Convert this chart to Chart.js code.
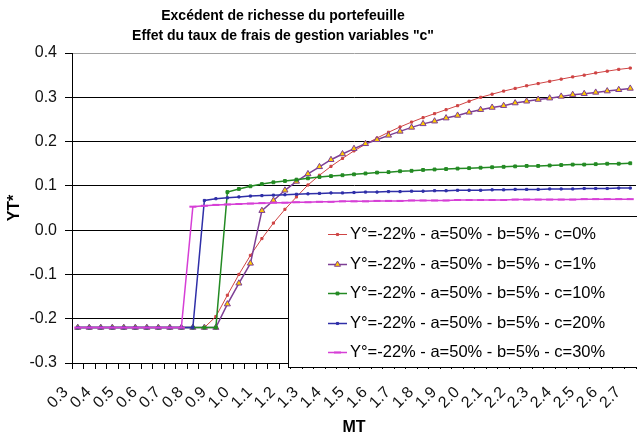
<!DOCTYPE html>
<html>
<head>
<meta charset="utf-8">
<script src="https://cdn.jsdelivr.net/npm/chart.js@4.4.1/dist/chart.umd.min.js"></script>
<style>
  html, body { margin: 0; padding: 0; background: #fff; overflow: hidden; }
  #wrap { position: relative; width: 642px; height: 440px; }
</style>
</head>
<body>
<div id="wrap"><canvas id="chart"></canvas></div>
<script>
// MT categories (x axis)
const mt = [
  0.30, 0.35, 0.40, 0.45, 0.50, 0.55, 0.60, 0.65, 0.70, 0.75,
  0.80, 0.85, 0.90, 0.95, 1.00, 1.05, 1.10, 1.15, 1.20, 1.25,
  1.30, 1.35, 1.40, 1.45, 1.50, 1.55, 1.60, 1.65, 1.70, 1.75,
  1.80, 1.85, 1.90, 1.95, 2.00, 2.05, 2.10, 2.15, 2.20, 2.25,
  2.30, 2.35, 2.40, 2.45, 2.50, 2.55, 2.60, 2.65, 2.70
];

// YT* for each value of c
const c0 = [
  -0.22, -0.22, -0.22, -0.22, -0.22, -0.22, -0.22, -0.22, -0.22, -0.22,
  -0.22, -0.22, -0.195, -0.147, -0.100, -0.057, -0.019, 0.016, 0.047, 0.075,
  0.102, 0.124, 0.144, 0.162, 0.179, 0.194, 0.208, 0.221, 0.233, 0.244,
  0.254, 0.263, 0.272, 0.281, 0.291, 0.300, 0.307, 0.314, 0.320, 0.326,
  0.331, 0.336, 0.341, 0.346, 0.350, 0.355, 0.359, 0.363, 0.366
];
const c1 = [
  -0.22, -0.22, -0.22, -0.22, -0.22, -0.22, -0.22, -0.22, -0.22, -0.22,
  -0.22, -0.22, -0.22, -0.167, -0.120, -0.075, 0.044, 0.067, 0.090, 0.110,
  0.127, 0.143, 0.159, 0.172, 0.184, 0.195, 0.204, 0.214, 0.223, 0.232,
  0.240, 0.246, 0.253, 0.259, 0.266, 0.272, 0.277, 0.281, 0.287, 0.291,
  0.295, 0.298, 0.302, 0.306, 0.308, 0.311, 0.314, 0.317, 0.320
];
const c10 = [
  -0.22, -0.22, -0.22, -0.22, -0.22, -0.22, -0.22, -0.22, -0.22, -0.22,
  -0.22, -0.22, -0.22, 0.086, 0.093, 0.099, 0.104, 0.108, 0.111, 0.114,
  0.117, 0.120, 0.122, 0.124, 0.126, 0.128, 0.130, 0.131, 0.133, 0.134,
  0.136, 0.137, 0.138, 0.139, 0.140, 0.141, 0.142, 0.143, 0.144, 0.145,
  0.145, 0.146, 0.147, 0.148, 0.148, 0.149, 0.150, 0.150, 0.151
];
const c20 = [
  -0.22, -0.22, -0.22, -0.22, -0.22, -0.22, -0.22, -0.22, -0.22, -0.22,
  -0.22, 0.067, 0.071, 0.073, 0.075, 0.077, 0.078, 0.079, 0.080, 0.081,
  0.082, 0.083, 0.084, 0.084, 0.085, 0.086, 0.086, 0.087, 0.087, 0.088,
  0.088, 0.089, 0.089, 0.090, 0.090, 0.090, 0.091, 0.091, 0.092, 0.092,
  0.092, 0.093, 0.093, 0.093, 0.094, 0.094, 0.094, 0.095, 0.095
];
const c30 = [
  -0.22, -0.22, -0.22, -0.22, -0.22, -0.22, -0.22, -0.22, -0.22, -0.22,
  0.053, 0.055, 0.057, 0.058, 0.059, 0.060, 0.061, 0.062, 0.062, 0.063,
  0.063, 0.064, 0.064, 0.065, 0.065, 0.065, 0.066, 0.066, 0.066, 0.067,
  0.067, 0.067, 0.067, 0.068, 0.068, 0.068, 0.068, 0.068, 0.069, 0.069,
  0.069, 0.069, 0.069, 0.069, 0.070, 0.070, 0.070, 0.070, 0.070
];

const seriesLabels = [
  "Y°=-22% - a=50% - b=5% - c=0%",
  "Y°=-22% - a=50% - b=5% - c=1%",
  "Y°=-22% - a=50% - b=5% - c=10%",
  "Y°=-22% - a=50% - b=5% - c=20%",
  "Y°=-22% - a=50% - b=5% - c=30%"
];
const titleLines = [
  "Excédent de richesse du portefeuille",
  "Effet du taux de frais de gestion variables \"c\""
];
const yMin = -0.3, yMax = 0.4, yStep = 0.1;

const FONT = "'Liberation Sans', Arial, sans-serif";
Chart.defaults.font.family = FONT;
Chart.defaults.color = "#111";

// title + legend box drawn over the plot, like the Excel original
const overlay = {
    id: "overlay",
    afterDraw(chart) {
        const ctx = chart.ctx;
        ctx.save();
        ctx.fillStyle = "#000";
        ctx.font = "bold 14px " + FONT;
        ctx.textAlign = "center";
        ctx.textBaseline = "middle";
        titleLines.forEach((t, i) => ctx.fillText(t, 283, 16 + i * 20));

        ctx.fillStyle = "#fff";
        ctx.fillRect(288, 216, 370, 151);
        ctx.strokeStyle = "#000";
        ctx.lineWidth = 1;
        ctx.strokeRect(288.5, 216.5, 370, 151);

        chart.data.datasets.forEach((ds, i) => {
            const y = Math.round(234 + i * 29.6) + 0.5;
            ctx.strokeStyle = ds.borderColor;
            ctx.lineWidth = ds.borderWidth;
            ctx.beginPath();
            ctx.moveTo(328, y);
            ctx.lineTo(347, y);
            ctx.stroke();
            ctx.fillStyle = ds.pointBackgroundColor;
            ctx.strokeStyle = ds.pointBorderColor;
            ctx.lineWidth = ds.pointBorderWidth;
            Chart.helpers.drawPoint(ctx, {
                pointStyle: ds.pointStyle, radius: ds.pointRadius,
                rotation: 0, borderWidth: ds.pointBorderWidth
            }, 337.5, y);
            ctx.fillStyle = "#000";
            ctx.font = "16.5px " + FONT;
            ctx.textAlign = "left";
            ctx.fillText(ds.label, 350, y);
        });
        ctx.restore();
    }
};

const colors = ["#cf4444", "#7d3f95", "#238a23", "#2f2fa8", "#d63fd6"];

new Chart(document.getElementById("chart"), {
    type: "line",
    data: {
        labels: mt,
        datasets: [
            {
                label: seriesLabels[0], data: c0, order: 5,
                borderColor: colors[0], borderWidth: 1,
                pointStyle: "rect", pointRadius: 1.5,
                pointBackgroundColor: colors[0], pointBorderColor: colors[0], pointBorderWidth: 1,
            },
            {
                label: seriesLabels[1], data: c1, order: 4,
                borderColor: colors[1], borderWidth: 1.5,
                pointStyle: "triangle", pointRadius: 3.5,
                pointBackgroundColor: "#ffcc00", pointBorderColor: colors[1], pointBorderWidth: 1,
            },
            {
                label: seriesLabels[2], data: c10, order: 3,
                borderColor: colors[2], borderWidth: 1.5,
                pointStyle: "rect", pointRadius: 2,
                pointBackgroundColor: colors[2], pointBorderColor: colors[2], pointBorderWidth: 1,
            },
            {
                label: seriesLabels[3], data: c20, order: 2,
                borderColor: colors[3], borderWidth: 1.5,
                pointStyle: "rect", pointRadius: 1.5,
                pointBackgroundColor: colors[3], pointBorderColor: colors[3], pointBorderWidth: 1,
            },
            {
                label: seriesLabels[4], data: c30, order: 1,
                borderColor: colors[4], borderWidth: 1.5,
                pointStyle: "line", pointRadius: 3.5,
                pointBackgroundColor: colors[4], pointBorderColor: colors[4], pointBorderWidth: 2,
            },
        ],
    },
    options: {
        responsive: true,
        maintainAspectRatio: false,
        animation: false,
        layout: { padding: { top: 53, left: 0, right: 0, bottom: 0 } },
        plugins: {
            legend: { display: false },
            tooltip: { enabled: false },
        },
        scales: {
            x: {
                offset: true,
                grid: { offset: true, drawOnChartArea: false, tickLength: 6, tickColor: "#000" },
                border: { color: "#000" },
                ticks: {
                    autoSkip: false, maxRotation: 45, minRotation: 45,
                    font: { size: 16 }, padding: 14, labelOffset: -12,
                    callback: (v, i) => (i % 2 === 0 ? mt[i].toFixed(1) : ""),
                },
                title: { display: true, text: "MT", font: { size: 16, weight: "bold" }, color: "#000", padding: { top: 4, bottom: 3 } },
                afterFit: (s) => { s.height = 77; s.paddingRight = 0; },
            },
            y: {
                min: yMin, max: yMax,
                grid: {
                    color: (c) => (Math.abs(c.tick.value - yMax) < 1e-6 ? "#a0a0a0" : "#000"),
                    tickLength: 7, tickColor: "#000",
                },
                border: { color: "#000" },
                ticks: {
                    stepSize: yStep, padding: 8, font: { size: 16 },
                    callback: (v) => v.toFixed(1),
                },
                title: { display: true, text: "YT*", font: { size: 16, weight: "bold" }, color: "#000", padding: { top: 5, bottom: 4 } },
                afterFit: (s) => { s.width = 72; },
            },
        },
    },
    plugins: [overlay],
});
</script>
</body>
</html>
